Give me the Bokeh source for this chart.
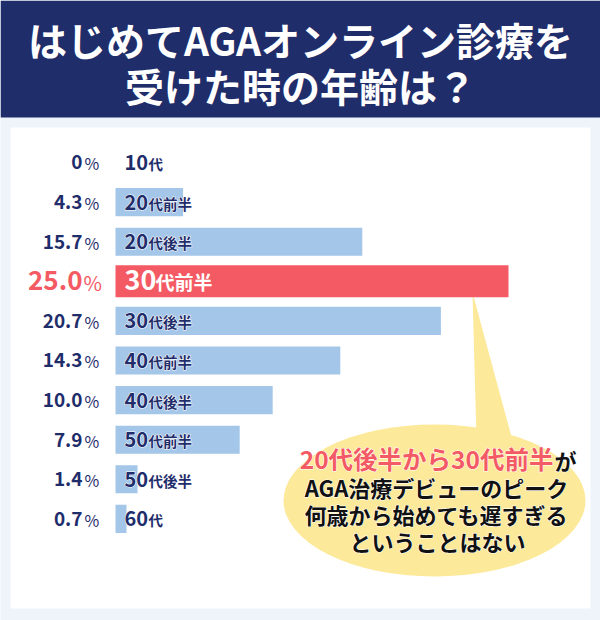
from bokeh.plotting import figure
from bokeh.models import Range1d, ColumnDataSource
from bokeh.core.properties import value
from bokeh.embed import file_html
from bokeh.resources import INLINE

# ---- data ----
title_lines = ["はじめてAGAオンライン診療を", "受けた時の年齢は？"]
age_nums = ["10", "20", "20", "30", "30", "40", "40", "50", "50", "60"]
age_suffix = ["代", "代前半", "代後半", "代前半", "代後半", "代前半", "代後半", "代前半", "代後半", "代"]
shares = [0.0, 4.3, 15.7, 25.0, 20.7, 14.3, 10.0, 7.9, 1.4, 0.7]
share_labels = ["0", "4.3", "15.7", "25.0", "20.7", "14.3", "10.0", "7.9", "1.4", "0.7"]
highlight = 3
bubble_red = "20代後半から30代前半"
bubble_black = "が"
bubble_lines = ["AGA治療デビューのピーク", "何歳から始めても遅すぎる", "ということはない"]

NAVY = "#1f2d6b"
BLUE = "#a4c6e8"
RED = "#f45a64"
YELLOW = "#fde99a"
BG = "#eef4fa"
FONT = "Noto Sans CJK JP"

rows = list(range(len(shares)))
hl = [i == highlight for i in rows]

p = figure(width=600, height=620, output_backend="svg", toolbar_location=None,
           x_range=Range1d(-7.3155, 30.852), y_range=Range1d(11.5657, -4.0909),
           x_axis_type=None, y_axis_type=None, min_border=0)
p.extra_x_ranges = {"px": Range1d(0, 600)}
p.extra_y_ranges = {"px": Range1d(620, 0)}
p.grid.visible = False
p.outline_line_color = None
p.background_fill_color = BG
p.border_fill_color = BG

PX = dict(x_range_name="px", y_range_name="px")


def halo_text(**kw):
    """Text with a white halo: a white outlined copy beneath, the coloured text on top."""
    color = kw.pop("text_color")
    p.text(text_color="white", text_outline_color="white", **kw)
    p.text(text_color=color, **kw)


# header + panel
p.quad(left=0, right=600, top=0, bottom=117, fill_color=NAVY, line_color=None, **PX)
p.quad(left=10, right=590, top=127, bottom=608, fill_color="white", line_color=None, **PX)
p.text(x=[300, 300], y=[38, 84], text=title_lines, text_align="center", text_baseline="middle",
       text_font=value(FONT), text_font_style="bold", text_font_size="39px", text_color="white", **PX)

# speech bubble (beneath bars)
p.ellipse(x=434, y=500, width=302, height=152, fill_color=YELLOW, line_color=None, **PX)
p.patch(x=[476, 512, 472], y=[440, 440, 292], fill_color=YELLOW, line_color=None, **PX)

# bars
src = ColumnDataSource(dict(
    row=rows, share=shares,
    h=[0.81 if h else 0.71 for h in hl],
    color=[RED if h else BLUE for h in hl],
))
p.hbar(y="row", left=0, right="share", height="h", fill_color="color", line_color=None, source=src)

# percentage labels
norm = [i for i in rows if not hl[i]]
p.text(x=[82] * len(norm), y=[rows[i] for i in norm], text=[share_labels[i] for i in norm],
       x_range_name="px", text_align="right", text_baseline="middle", y_offset=0,
       text_font=value(FONT), text_font_style="bold", text_font_size="19px", text_color=NAVY)
p.text(x=[84] * len(norm), y=[rows[i] for i in norm], text=["%"] * len(norm),
       x_range_name="px", text_align="left", text_baseline="middle", y_offset=1,
       text_font=value(FONT), text_font_size="16px", text_color=NAVY)
p.text(x=[82], y=[rows[highlight]], text=[share_labels[highlight]],
       x_range_name="px", text_align="right", text_baseline="middle", y_offset=-1,
       text_font=value(FONT), text_font_style="bold", text_font_size="26px", text_color=RED)
p.text(x=[83], y=[rows[highlight]], text=["%"],
       x_range_name="px", text_align="left", text_baseline="middle", y_offset=1,
       text_font=value(FONT), text_font_size="20px", text_color=RED)

# category labels inside bars
halo_text(x=[0] * len(norm), y=[rows[i] for i in norm], text=[age_nums[i] for i in norm],
          x_offset=9, y_offset=0, text_align="left", text_baseline="middle",
          text_font=value(FONT), text_font_style="bold", text_font_size="20px", text_color=NAVY)
halo_text(x=[0] * len(norm), y=[rows[i] for i in norm], text=[age_suffix[i] for i in norm],
          x_offset=33, y_offset=1, text_align="left", text_baseline="middle",
          text_font=value(FONT), text_font_style="bold", text_font_size="14.5px", text_color=NAVY)
p.text(x=[0], y=[rows[highlight]], text=[age_nums[highlight]],
       x_offset=9, y_offset=-1, text_align="left", text_baseline="middle",
       text_font=value(FONT), text_font_style="bold", text_font_size="27px", text_color="white")
p.text(x=[0], y=[rows[highlight]], text=[age_suffix[highlight]],
       x_offset=40, y_offset=0, text_align="left", text_baseline="middle",
       text_font=value(FONT), text_font_style="bold", text_font_size="19px", text_color="white")

# bubble text
halo_text(x=[553], y=[458], text=[bubble_red], text_align="right", text_baseline="middle",
          text_font=value(FONT), text_font_style="bold", text_font_size="24.5px", text_color=RED, **PX)
halo_text(x=[554], y=[459], text=[bubble_black], text_align="left", text_baseline="middle",
          text_font=value(FONT), text_font_style="bold", text_font_size="22px", text_color="#111111", **PX)
halo_text(x=[436, 436, 437], y=[486, 513, 540], text=bubble_lines, text_align="center", text_baseline="middle",
          text_font=value(FONT), text_font_style="bold", text_font_size="22px", text_color="#111111", **PX)

open("out.html", "w").write(file_html(p, INLINE))
